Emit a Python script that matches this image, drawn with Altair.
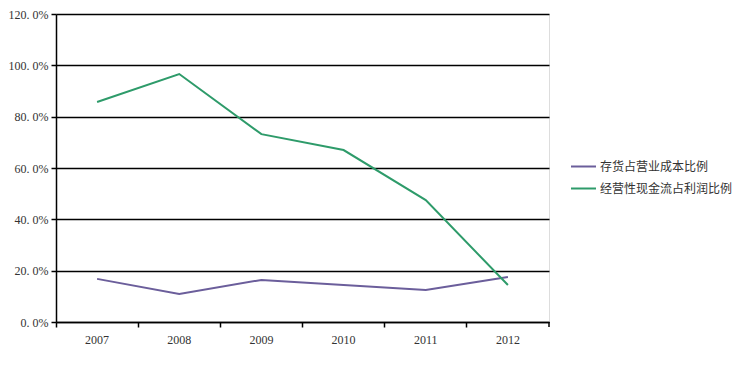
import altair as alt
import pandas as pd

years = ["2007", "2008", "2009", "2010", "2011", "2012"]
series_names = ["存货占营业成本比例", "经营性现金流占利润比例"]
inventory_ratio = [16.8, 10.9, 16.4, 14.4, 12.5, 17.5]
cashflow_ratio = [85.7, 96.6, 73.2, 67.0, 47.5, 14.4]
colors = ["#6B5E9B", "#2E9B6A"]

rows = []
for y, v in zip(years, inventory_ratio):
    rows.append({"year": y, "series": series_names[0], "value": v})
for y, v in zip(years, cashflow_ratio):
    rows.append({"year": y, "series": series_names[1], "value": v})
df = pd.DataFrame(rows)

W, H = 493, 308
num_font = "Liberation Serif"
cjk_font = "Noto Sans CJK SC"

base = alt.Chart(df)

lines = base.mark_line(strokeWidth=2).encode(
    x=alt.X("year:N", sort=years, title=None,
            scale=alt.Scale(type="band", paddingInner=0, paddingOuter=0),
            axis=alt.Axis(bandPosition=0, labels=False, ticks=True, tickSize=5,
                          tickColor="black", tickWidth=1.5, domainColor="black",
                          domainWidth=1.5, grid=False, orient="bottom")),
    y=alt.Y("value:Q", title=None,
            scale=alt.Scale(domain=[0, 120], nice=False),
            axis=alt.Axis(values=[0, 20, 40, 60, 80, 100, 120],
                          labelExpr="replace(format(datum.value, '.1f'), '.', '. ') + '%'",
                          labelFont=num_font, labelFontSize=12, labelColor="#333",
                          tickColor="black", tickSize=5, tickWidth=1.5,
                          domainColor="black", domainWidth=1.5,
                          gridColor="black", gridWidth=1.5, gridOpacity=1,
                          labelPadding=3)),
    color=alt.Color("series:N", sort=series_names,
                    scale=alt.Scale(domain=series_names, range=colors),
                    legend=alt.Legend(title=None, orient="none", legendX=514, legendY=139,
                                      symbolType="stroke", symbolSize=625, symbolStrokeWidth=2,
                                      labelFont=cjk_font, labelFontSize=12, labelColor="#333",
                                      rowPadding=2, labelOffset=3)),
)

labels_layer = base.mark_line(opacity=0).encode(
    x=alt.X("year:N", sort=years, title=None,
            axis=alt.Axis(bandPosition=0.5, ticks=False, domain=False, grid=False,
                          labelAngle=0, labelFont=num_font, labelFontSize=12,
                          labelColor="#333", labelPadding=12, orient="bottom")),
    y=alt.Y("value:Q"),
)

end_tick = alt.Chart(pd.DataFrame({"a": [0]})).mark_rule(color="black", strokeWidth=1.5).encode(
    x=alt.value(W), y=alt.value(H), y2=alt.value(H + 5)
)

chart = alt.layer(lines, labels_layer, end_tick).resolve_axis(x="independent").properties(
    width=W, height=H,
    autosize=alt.AutoSizeParams(type="none"),
    padding={"left": 48, "top": 6, "right": 190, "bottom": 45},
).configure_view(stroke=None).configure(background="white")

chart.save("out.html", embed_options={"renderer": "svg", "actions": False})
